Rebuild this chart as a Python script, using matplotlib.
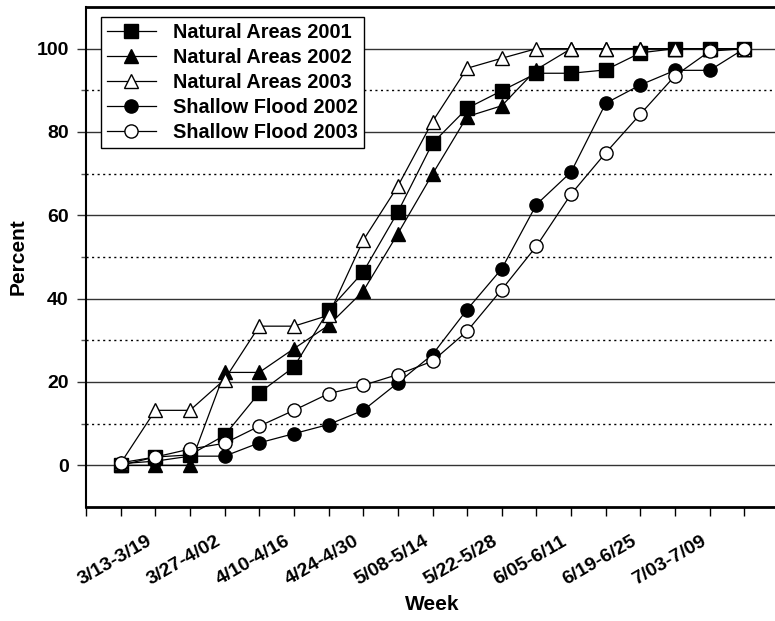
import numpy as np
import matplotlib
matplotlib.use("Agg")
import matplotlib.pyplot as plt
from matplotlib.transforms import ScaledTranslation

plt.rcParams["font.family"] = ["Liberation Sans", "DejaVu Sans"]
plt.rcParams["font.weight"] = "bold"

# weeks (19 categories, every other one labelled)
weeks = ["3/13-3/19", "3/20-3/26", "3/27-4/02", "4/03-4/09", "4/10-4/16",
         "4/17-4/23", "4/24-4/30", "5/01-5/07", "5/08-5/14", "5/15-5/21",
         "5/22-5/28", "5/29-6/04", "6/05-6/11", "6/12-6/18", "6/19-6/25",
         "6/26-7/02", "7/03-7/09", "7/10-7/16", "7/17-7/23"]

natural_2001 = [0, 2, 2.5, 7.2, 17.4, 23.6, 37.2, 46.4, 60.8, 77.3,
                85.7, 89.9, 94.1, 94.1, 94.9, 99, 100, 100, 100]
natural_2002 = [0, 0, 0, 22.3, 22.3, 28, 33.6, 41.8, 55.6, 69.9,
                83.7, 86.3, 95, 100, 100, 100, 100, 100, 100]
natural_2003 = [0.5, 13.2, 13.2, 20.6, 33.4, 33.4, 36, 54, 67, 82.5,
                95.3, 97.7, 100, 100, 100, 100, 100, 100, 100]
shallow_2002 = [0.4, 1, 2.2, 2.2, 5.4, 7.6, 9.8, 13.2, 19.8, 26.6,
                37.4, 47.2, 62.6, 70.4, 86.9, 91.3, 94.8, 94.8, 100]
shallow_2003 = [0.6, 2, 3.9, 5.3, 9.4, 13.2, 17.2, 19.2, 21.8, 25,
                32.2, 42.2, 52.6, 65.1, 75, 84.3, 93.5, 99.4, 100]

W, H = 775, 621
fig = plt.figure(figsize=(W / 100, H / 100), dpi=100)
# axes box in pixels: left 86, right 779 (just past the edge), top 7, bottom 507
ax = fig.add_axes([86 / W, (H - 507) / H, (779 - 86) / W, 500 / H])

x = np.arange(len(weeks))
series = [
    ("Natural Areas 2001", natural_2001, "s", "black", 9.5),
    ("Natural Areas 2002", natural_2002, "^", "black", 10),
    ("Natural Areas 2003", natural_2003, "^", "white", 10),
    ("Shallow Flood 2002", shallow_2002, "o", "black", 9.5),
    ("Shallow Flood 2003", shallow_2003, "o", "white", 9.5),
]
for name, vals, mk, fc, ms in series:
    ax.plot(x, vals, color="black", lw=0.9, marker=mk, markersize=ms,
            markerfacecolor=fc, markeredgecolor="black", markeredgewidth=1,
            label=name, zorder=3)

ax.set_xlim(-1, 19)
ax.set_ylim(-10, 110)

# horizontal grid: solid at 0..100, dotted in between
for v in range(0, 101, 20):
    ax.axhline(v, color="#333333", lw=1, zorder=1)
for v in range(10, 100, 20):
    ax.axhline(v, color="black", lw=1, ls=(0, (1.5, 2.5)), zorder=1)

ax.set_yticks(range(0, 101, 20))
ax.set_yticks(range(10, 100, 20), minor=True)
ax.tick_params(axis="y", which="major", length=6.5, width=1, color="#333333",
               labelsize=14, pad=6)
ax.tick_params(axis="y", which="minor", length=3.5, width=1, color="#555555")

ax.set_xticks(np.arange(0, 17, 2))
ax.set_xticklabels(weeks[0:17:2])
ax.set_xticks([-1] + [i for i in range(1, 20) if i % 2 == 1 or i > 16], minor=True)
ax.tick_params(axis="x", which="both", length=6.5, width=1, color="black")
ax.tick_params(axis="x", which="major", labelsize=14, pad=12)
shift = ScaledTranslation(-6 / 100, 0, fig.dpi_scale_trans)
for lab in ax.get_xticklabels():
    lab.set_rotation(30)
    lab.set_ha("center")
    lab.set_va("top")
    lab.set_transform(lab.get_transform() + shift)

ax.spines["top"].set_linewidth(2)
ax.spines["bottom"].set_linewidth(2)
ax.spines["left"].set_linewidth(1.5)
ax.spines["right"].set_visible(False)

fig.text(18 / W, 1 - 257 / H, "Percent", rotation=90, ha="center", va="center",
         fontsize=15, fontweight="bold")
fig.text(432 / W, 1 - 605 / H, "Week", ha="center", va="center",
         fontsize=15, fontweight="bold")

leg = ax.legend(loc="upper left", bbox_to_anchor=(101 / W, 1 - 17 / H),
                bbox_transform=fig.transFigure, borderaxespad=0, fancybox=False,
                edgecolor="black", framealpha=1, fontsize=14.3, numpoints=1,
                handlelength=2.45, handletextpad=0.9, borderpad=0.3,
                labelspacing=0.3)
leg.get_frame().set_linewidth(1)
leg.set_zorder(5)

fig.savefig("out.png", dpi=100)
